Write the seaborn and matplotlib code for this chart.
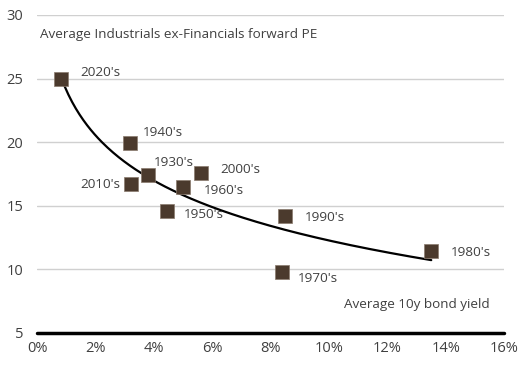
import numpy as np
import pandas as pd
import matplotlib
matplotlib.use("Agg")
import matplotlib.pyplot as plt
import seaborn as sns
from matplotlib.ticker import PercentFormatter

# decades, average 10y bond yield (%) and forward PE
decades = ["2020's", "1940's", "1930's", "2000's", "2010's",
           "1960's", "1950's", "1990's", "1980's", "1970's"]
bond_yield = [0.82, 3.18, 3.8, 5.6, 3.22, 5.0, 4.45, 8.5, 13.5, 8.4]
forward_pe = [25.0, 19.9, 17.4, 17.6, 16.7, 16.5, 14.6, 14.2, 11.4, 9.8]

# label offsets in points (dx, dy, horizontal alignment)
label_offsets = {
    "2020's": (14, 4, "left"), "1940's": (9, 8, "left"),
    "1930's": (4, 9, "left"), "2000's": (14, 2, "left"),
    "2010's": (-8, 0, "right"), "1960's": (15, -3, "left"),
    "1950's": (12, -3, "left"), "1990's": (14, -1, "left"),
    "1980's": (14, -1, "left"), "1970's": (11, -5, "left"),
}

df = pd.DataFrame({"decade": decades, "yield": bond_yield, "pe": forward_pe})

sns.set_theme(style="white")
plt.rcParams["font.family"] = ["Open Sans", "DejaVu Sans"]

fig = plt.figure(figsize=(5.25, 3.65), dpi=100)
ax = fig.add_axes([0.0705, 0.088, 0.89, 0.871])

# logarithmic trendline fitted to the points
b, a = np.polyfit(np.log(df["yield"]), df["pe"], 1)
xs = np.linspace(df["yield"].min(), df["yield"].max(), 200)
sns.lineplot(x=xs, y=a + b * np.log(xs), ax=ax, color="black", linewidth=1.6, zorder=2)

sns.scatterplot(data=df, x="yield", y="pe", ax=ax, marker="s", s=95,
                color="#4b3a2d", edgecolor="#8a7a6d", linewidth=0.5, zorder=3)

text_col = "#404040"
for _, r in df.iterrows():
    dx, dy, ha = label_offsets[r["decade"]]
    ax.annotate(r["decade"], (r["yield"], r["pe"]), xytext=(dx, dy),
                textcoords="offset points", ha=ha, va="center",
                fontsize=9.7, color=text_col)

ax.text(0.1, 28.5, "Average Industrials ex-Financials forward PE",
        fontsize=9.7, color=text_col, va="center", ha="left")
ax.text(15.5, 7.2, "Average 10y bond yield",
        fontsize=9.7, color=text_col, va="center", ha="right")

ax.set_xlim(0, 16)
ax.set_ylim(5, 30)
ax.set_xticks(range(0, 17, 2))
ax.set_yticks(range(5, 31, 5))
ax.xaxis.set_major_formatter(PercentFormatter(decimals=0))
ax.set_xlabel("")
ax.set_ylabel("")
ax.tick_params(axis="both", length=0, labelsize=10.5, labelcolor=text_col)
ax.tick_params(axis="x", pad=6)
ax.tick_params(axis="y", pad=10)

for y in range(10, 31, 5):
    ax.axhline(y, color="#d0d0d0", linewidth=1, zorder=0)
ax.axhline(5, color="black", linewidth=2.5, zorder=1, clip_on=False)

for s in ax.spines.values():
    s.set_visible(False)

fig.savefig("out.png", dpi=100)
